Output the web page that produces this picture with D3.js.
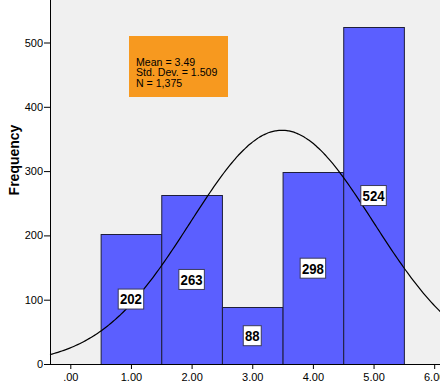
<!DOCTYPE html>
<html><head><meta charset="utf-8">
<script src="https://cdn.jsdelivr.net/npm/d3@7"></script>
<style>body{margin:0;background:#fff}svg{display:block}</style>
</head><body>
<script>
const binCenters = [1, 2, 3, 4, 5];
const frequencies = [202, 263, 88, 298, 524];
const xTicks = [0, 1, 2, 3, 4, 5, 6];
const yTicks = [0, 100, 200, 300, 400, 500];
const statsLines = ["Mean = 3.49", "Std. Dev. = 1.509", "N = 1,375"];
const mean = 3.49, sd = 1.509, n = 1375, binWidth = 1;

const W = 440, H = 391;
const plotLeft = 50, plotBottom = 364, plotTop = 0;
const x = d3.scaleLinear().domain([0, 6]).range([70.3, 434.2]);
const y = d3.scaleLinear().domain([0, 500]).range([plotBottom, 42.5]);
const xMin = x.invert(plotLeft), xMax = x.invert(W + 5);

const svg = d3.select("body").append("svg").attr("width", W).attr("height", H);
svg.append("rect").attr("x", plotLeft).attr("y", plotTop).attr("width", W - plotLeft).attr("height", plotBottom - plotTop).attr("fill", "#f0f0f0");

// bars
svg.selectAll("rect.bar").data(binCenters).enter().append("rect")
  .attr("class", "bar")
  .attr("x", d => x(d - binWidth / 2) + 0.5)
  .attr("y", (d, i) => Math.round(y(frequencies[i])) + 0.5)
  .attr("width", d => x(d + binWidth / 2) - x(d - binWidth / 2))
  .attr("height", (d, i) => plotBottom - Math.round(y(frequencies[i])))
  .attr("fill", "#5b5fff").attr("stroke", "#1e1e3a").attr("stroke-width", 1);

// normal curve
const pts = d3.range(0, 201).map(i => {
  const v = xMin + (xMax - xMin) * i / 200;
  const f = n * binWidth / (sd * Math.sqrt(2 * Math.PI)) * Math.exp(-0.5 * Math.pow((v - mean) / sd, 2));
  return [v, f];
});
svg.append("path").datum(pts)
  .attr("d", d3.line().x(d => x(d[0])).y(d => y(d[1])).curve(d3.curveBasis))
  .attr("fill", "none").attr("stroke", "#000").attr("stroke-width", 1.2);

// value labels
const lab = svg.selectAll("g.lab").data(binCenters).enter().append("g").attr("class", "lab")
  .attr("transform", (d, i) => `translate(${x(d)},${y(frequencies[i] / 2)})`);
lab.each(function(d, i) {
  const g = d3.select(this);
  const t = String(frequencies[i]);
  const w = t.length * 7.5 + 3;
  g.append("rect").attr("x", -w / 2).attr("y", -10).attr("width", w).attr("height", 20)
    .attr("fill", "#fff").attr("stroke", "#3a3a5a").attr("stroke-width", 1);
  g.append("text").attr("text-anchor", "middle").attr("dy", "0.36em")
    .attr("transform", "scale(0.88,1)")
    .attr("font-family", "'Liberation Sans', Arial, sans-serif")
    .attr("font-weight", "bold").attr("font-size", 15).attr("fill", "#000").text(t);
});

// axes
const yAxis = svg.append("g").attr("transform", `translate(${plotLeft},0)`)
  .call(d3.axisLeft(y).tickValues(yTicks).tickSize(6).tickFormat(d3.format("d")));
const xAxis = svg.append("g").attr("transform", `translate(0,${plotBottom})`)
  .call(d3.axisBottom(x).tickValues(xTicks).tickSize(5).tickFormat(d => d === 0 ? ".00" : d.toFixed(2)));
[yAxis, xAxis].forEach(a => {
  a.selectAll(".domain").remove();
  a.selectAll("text").attr("font-family", "'Liberation Sans', Arial, sans-serif").attr("font-size", 11).attr("fill", "#000");
  a.selectAll("line").attr("stroke", "#000");
});
yAxis.selectAll("text").attr("x", -7);
xAxis.selectAll("text").attr("y", 9);
svg.append("line").attr("x1", plotLeft + 0.5).attr("x2", plotLeft + 0.5).attr("y1", plotTop).attr("y2", plotBottom + 0.5).attr("stroke", "#000");
svg.append("line").attr("x1", plotLeft).attr("x2", W).attr("y1", plotBottom + 0.5).attr("y2", plotBottom + 0.5).attr("stroke", "#000");

// y title
svg.append("text").attr("transform", `translate(14,160) rotate(-90)`).attr("text-anchor", "middle")
  .attr("dy", "0.35em").attr("font-family", "'Liberation Sans', Arial, sans-serif")
  .attr("font-weight", "bold").attr("font-size", 14).text("Frequency");

// stats box
svg.append("rect").attr("x", 129).attr("y", 36).attr("width", 99).attr("height", 61).attr("fill", "#f7991f");
svg.selectAll("text.stat").data(statsLines).enter().append("text").attr("class", "stat")
  .attr("x", 136).attr("y", (d, i) => 65.5 + i * 10.5)
  .attr("font-family", "'Liberation Sans', Arial, sans-serif").attr("font-size", 10.6).attr("fill", "#000")
  .text(d => d);
</script>
</body></html>
